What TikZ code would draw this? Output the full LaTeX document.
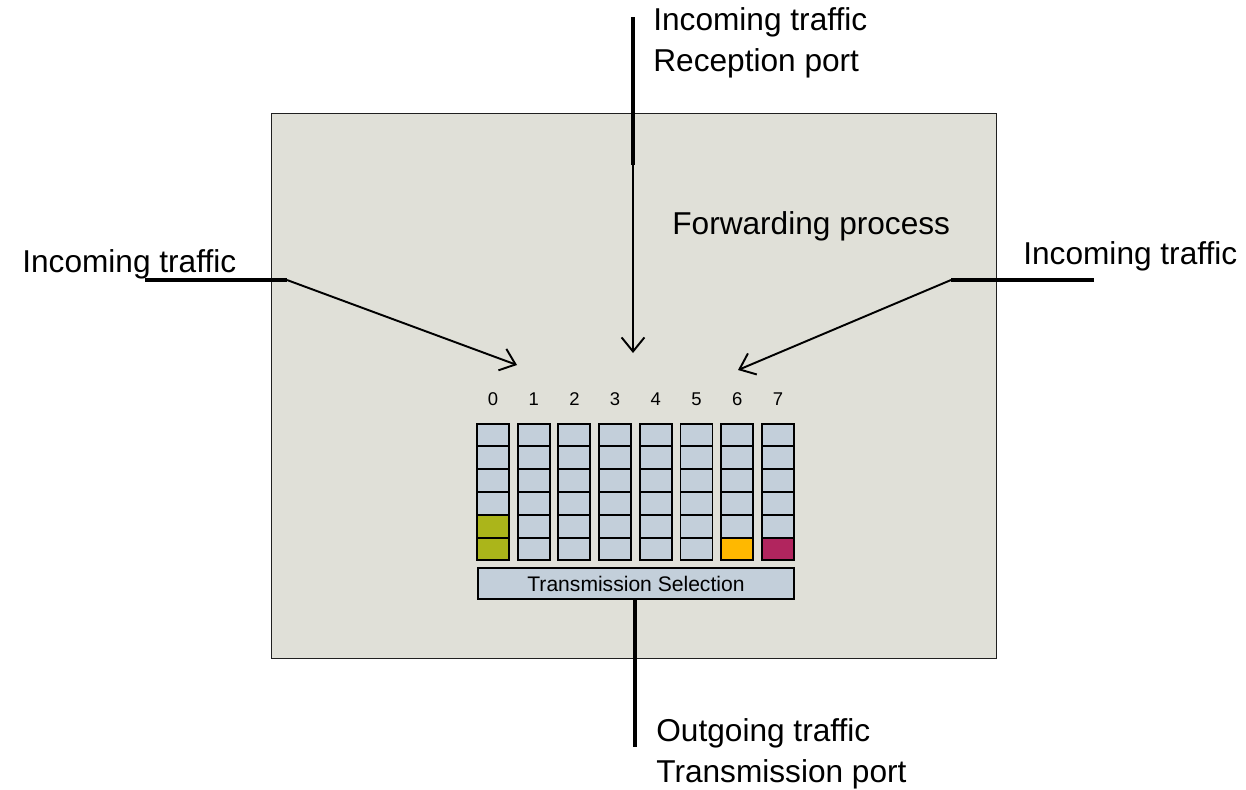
\documentclass[tikz,border=0pt]{standalone}
\usepackage{fontspec}
\setmainfont{Liberation Sans}
\usetikzlibrary{arrows.meta}
\definecolor{bgbox}{HTML}{E0E0D8}
\definecolor{boxline}{HTML}{202020}
\definecolor{cellfill}{HTML}{C3CFDA}
\definecolor{olive}{HTML}{ABB51A}
\definecolor{amber}{HTML}{FFB800}
\definecolor{crimson}{HTML}{B1255E}
\tikzset{
  lbl/.style={inner sep=0pt, font=\fontsize{18}{23.3}\selectfont, align=left},
  digit/.style={inner sep=0pt, font=\fontsize{10.5}{12}\selectfont},
  cell/.style={draw=black, line width=1.1pt, fill=cellfill, minimum width=32*0.02cm, minimum height=22.8*0.02cm, inner sep=0pt, outer sep=0pt},
  port/.style={line width=2.8pt, black},
  flow/.style={line width=1.1pt, black, -{Straight Barb[length=8pt,width=13pt,line width=1.1pt]}},
  plain/.style={line width=1.1pt, black}
}
\begin{document}
\begin{tikzpicture}[x=0.02cm,y=-0.02cm]
\useasboundingbox (0,0) rectangle (1246,789);
% main box
\node[draw=boxline, line width=0.8pt, fill=bgbox, minimum width=725*0.02cm, minimum height=545*0.02cm, inner sep=0pt, anchor=north west] (fp) at (271,113) {};
\node[lbl, anchor=west] (fptext) at (672,226) {Forwarding process};
% queues
\foreach \i in {0,...,7} {
  \pgfmathsetmacro{\cx}{493+40.7*\i}
  \node[digit] (d\i) at (\cx,399) {\i};
  \foreach \j in {0,...,5} {
    \pgfmathsetmacro{\cy}{435+22.8*\j}
    \node[cell] (q\i\j) at (\cx,\cy) {};
  }
}
\node[cell, fill=olive] at (q04) {};
\node[cell, fill=olive] at (q05) {};
\node[cell, fill=amber] at (q65) {};
\node[cell, fill=crimson] at (q75) {};
\node[draw=black, line width=1.1pt, fill=cellfill, minimum width=316*0.02cm, minimum height=31*0.02cm, inner sep=0pt, anchor=north west, font=\fontsize{12}{14}\selectfont] (ts) at (477,567) {Transmission Selection};
% top port
\coordinate (tA) at (633,17);
\coordinate (tB) at (633,165);
\coordinate (tC) at (633,353);
\draw[port] (tA) -- (tB);
\draw[flow] (tB) -- (tC);
\node[lbl, anchor=west] (toplbl) at (653,42.5) {Incoming traffic\\Reception port};
% left port
\coordinate (lA) at (145,280);
\coordinate (lB) at (287,280);
\coordinate (lC) at (517,365);
\draw[port] (lA) -- (lB);
\draw[flow] (lB) -- (lC);
\node[lbl, anchor=west] (leftlbl) at (22,264) {Incoming traffic};
% right port
\coordinate (rA) at (1094,280);
\coordinate (rB) at (951,280);
\coordinate (rC) at (738,370);
\draw[port] (rA) -- (rB);
\draw[flow] (rB) -- (rC);
\node[lbl, anchor=west] (rightlbl) at (1023,256) {Incoming traffic};
% bottom port
\coordinate (bB) at (635,747);
\draw[port] (ts.south -| bB) -- (bB);
\node[lbl, anchor=west] (botlbl) at (656,753.5) {Outgoing traffic\\Transmission port};
\end{tikzpicture}
\end{document}
